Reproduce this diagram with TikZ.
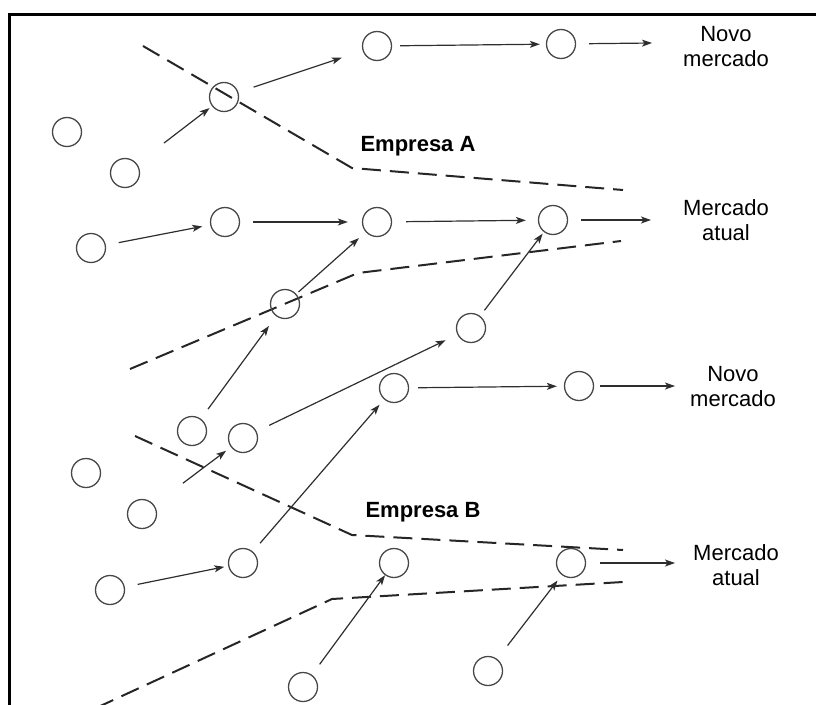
\documentclass[tikz,border=0pt]{standalone}
\usepackage{fontspec}
\setmainfont{Liberation Sans}
\usetikzlibrary{arrows.meta}
\definecolor{Ink}{HTML}{2E2E2E}
\definecolor{Ring}{HTML}{474747}

\begin{document}
\begin{tikzpicture}[x=1pt,y=-1pt,
  every node/.style={font=\fontsize{22}{25}\selectfont},
  firm/.style={circle,draw=Ring,line width=1.3pt,minimum size=29pt,inner sep=0pt},
  arr/.style={-{Stealth[length=10pt,width=7pt,inset=2.5pt]},line width=1.2pt,Ink,shorten <=13pt,shorten >=8pt},
  frontier/.style={draw=black!85,line width=2pt,dash pattern=on 19pt off 9pt}
]
\useasboundingbox (0,0) rectangle (816,704);
\draw[line width=3pt] (9,710) -- (9,14) -- (820,14);

% frontiers of the two firms
\draw[frontier] (143,46) -- (352,168) -- (623,190);
\draw[frontier] (130,369) -- (358,273) -- (621,241);
\draw[frontier] (135,436) -- (352,535) -- (623,550);
\draw[frontier] (96,708) -- (332,599) -- (623,582);

\node[font=\fontsize{22}{25}\selectfont\bfseries,anchor=west] (empA) at (357,146) {Empresa A};
\node[font=\fontsize{22}{25}\selectfont\bfseries,anchor=west] (empB) at (362,512) {Empresa B};

% circles
\node[firm] (a0) at (224,97) {};
\node[firm] (a1) at (377,46) {};
\node[firm] (a2) at (561,44) {};
\node[firm] (l1) at (67,132) {};
\node[firm] (l2) at (125,173) {};
\node[firm] (b0) at (91,248) {};
\node[firm] (b1) at (225,222) {};
\node[firm] (b2) at (377,222) {};
\node[firm] (b3) at (553,220) {};
\node[firm] (c0) at (285,304) {};
\node[firm] (c1) at (471,328) {};
\node[firm] (d0) at (192,431) {};
\node[firm] (d1) at (243,438) {};
\node[firm] (d2) at (394,388) {};
\node[firm] (d3) at (579,386) {};
\node[firm] (e0) at (86,473) {};
\node[firm] (e1) at (142,514) {};
\node[firm] (f0) at (110,590) {};
\node[firm] (f1) at (243,563) {};
\node[firm] (f2) at (394,563) {};
\node[firm] (f3) at (571,563) {};
\node[firm] (g0) at (303,687) {};
\node[firm] (g1) at (488,671) {};

% markets
\node[align=center] (novo1) at (726,47) {Novo\\mercado};
\node[align=center] (atual1) at (726,220) {Mercado\\atual};
\node[align=center] (novo2) at (733,387) {Novo\\mercado};
\node[align=center] (atual2) at (736,565) {Mercado\\atual};
\coordinate (toNovo1) at (652,43);
\coordinate (toAtual1) at (651,220);
\coordinate (toNovo2) at (675,386);
\coordinate (toAtual2) at (675,563);

% moves
\draw[arr,shorten <=34pt,shorten >=3pt] (l2) -- (a0);
\draw[arr,shorten <=16pt,shorten >=22pt] (a0) -- (a1);
\draw[arr,shorten <=8pt,shorten >=6pt] (a1) -- (a2);
\draw[arr,shorten >=0pt] (a2) -- (toNovo1);
\draw[arr] (b0) -- (b1);
\draw[arr,shorten >=14pt] (b1) -- (b2);
\draw[arr,shorten <=14pt,shorten >=12pt] (b2) -- (b3);
\draw[arr,shorten >=0pt] (b3) -- (toAtual1);
\draw[arr,shorten <=3pt,shorten >=9pt] (c0) -- (b2);
\draw[arr,shorten <=7pt,shorten >=2pt] (c1) -- (b3);
\draw[arr,shorten <=12pt,shorten >=12pt] (d0) -- (c0);
\draw[arr,shorten <=14pt,shorten >=13pt] (d1) -- (c1);
\draw[arr,shorten <=36pt,shorten >=6pt] (e1) -- (d1);
\draw[arr,shorten >=4pt] (f0) -- (f1);
\draw[arr,shorten <=11pt,shorten >=7pt] (f1) -- (d2);
\draw[arr,shorten <=9pt,shorten >=7pt] (d2) -- (d3);
\draw[arr,shorten <=6pt,shorten >=0pt] (d3) -- (toNovo2);
\draw[arr,shorten >=0pt] (g0) -- (f2);
\draw[arr,shorten <=17pt,shorten >=7pt] (g1) -- (f3);
\draw[arr,shorten <=14pt,shorten >=0pt] (f3) -- (toAtual2);
\end{tikzpicture}
\end{document}
